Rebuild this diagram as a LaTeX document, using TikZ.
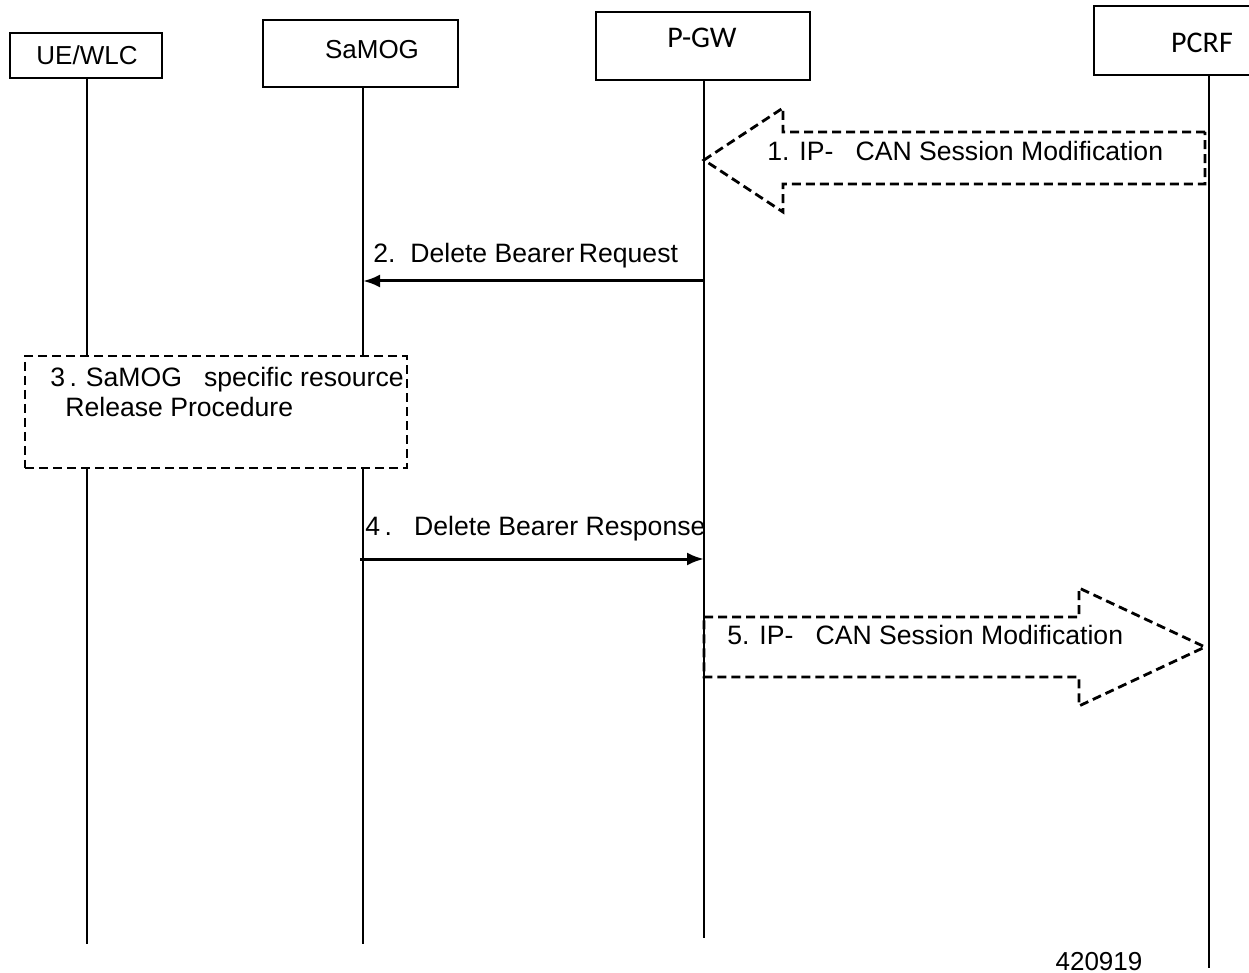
\documentclass[tikz,border=0pt]{standalone}
\usepackage{fontspec}
\setmainfont{Liberation Sans}
\newfontfamily\calfont{Carlito}
\usetikzlibrary{positioning,arrows,arrows.meta}

\begin{document}
\begin{tikzpicture}[x=0.5pt,y=-0.5pt,
    ent/.style={draw,line width=0.8pt,inner sep=0pt},
    ttl/.style={inner sep=0pt,font=\fontsize{13}{15}\selectfont},
    cttl/.style={inner sep=0pt,font=\calfont\fontsize{15}{17}\selectfont},
    txt/.style={inner sep=0pt,anchor=base west,font=\fontsize{13.3}{15}\selectfont},
    life/.style={line width=0.8pt},
    msg/.style={line width=1.5pt,-{Latex[length=8.5pt,width=6.5pt]}},
    blk/.style={line width=1.4pt,dash pattern=on 4.5pt off 2.5pt}]
  \useasboundingbox (0,0) rectangle (1249,973);

  \node[ent,minimum width=76pt,minimum height=22.5pt] (ue) at (86,55.5) {};
  \node[ent,minimum width=97.5pt,minimum height=33.5pt] (samog) at (360.5,53.5) {};
  \node[ent,minimum width=107pt,minimum height=34pt] (pgw) at (703,46) {};
  \node[ent,minimum width=78pt,minimum height=34.5pt] (pcrf) at (1172,40.5) {};
  \node[ttl] (uet) at (87,55) {UE/WLC};
  \node[ttl] (samogt) at (372,50) {SaMOG};
  \node[cttl] (pgwt) at (702,38) {P-GW};
  \node[cttl] (pcrft) at (1202,43) {PCRF};

  \coordinate (ue top) at (87,78);
  \coordinate (ue end) at (87,944);
  \coordinate (samog top) at (363,87);
  \coordinate (samog end) at (363,944);
  \coordinate (pgw top) at (704,80);
  \coordinate (pgw end) at (704,938);
  \coordinate (pcrf top) at (1209,75);
  \coordinate (pcrf end) at (1209,968);
  \draw[life] (ue top) -- (ue end);
  \draw[life] (samog top) -- (samog end);
  \draw[life] (pgw top) -- (pgw end);
  \draw[life] (pcrf top) -- (pcrf end);

  \draw[blk] (1205,132) -- (783,132) -- (783,108) -- (704,160) -- (783,212) -- (783,184) -- (1205,184) -- cycle;
  \node[txt] (m1) at (767,161) {1. IP-\ \ \ CAN Session Modification};

  \coordinate (m2 from) at (704,281);
  \coordinate (m2 to) at (363,281);
  \draw[msg] (m2 from) -- (m2 to);
  \node[txt] (m2) at (373,263) {2.\ \ Delete Bearer\,Request};

  \node[draw,fill=white,blk,minimum width=191pt,minimum height=56pt] (proc) at (216,412) {};
  \node[txt,align=left,anchor=north west] (proct) at (50,367) {3\,.\,\,SaMOG\ \ \ specific resource\\[0pt]\hspace{7.5pt}Release Procedure};

  \coordinate (m4 from) at (360,559);
  \coordinate (m4 to) at (704,559);
  \draw[msg] (m4 from) -- (m4 to);
  \node[txt] (m4) at (365,535) {4\,.\ \ \ Delete Bearer Response};

  \draw[blk] (704,617) -- (1079,617) -- (1079,588) -- (1205,647) -- (1079,706) -- (1079,677) -- (704,677) -- cycle;
  \node[txt] (m5) at (727,644) {5. IP-\ \ \ CAN Session Modification};

  \node[ttl,anchor=base] (fig) at (1099,970) {420919};
\end{tikzpicture}
\end{document}
